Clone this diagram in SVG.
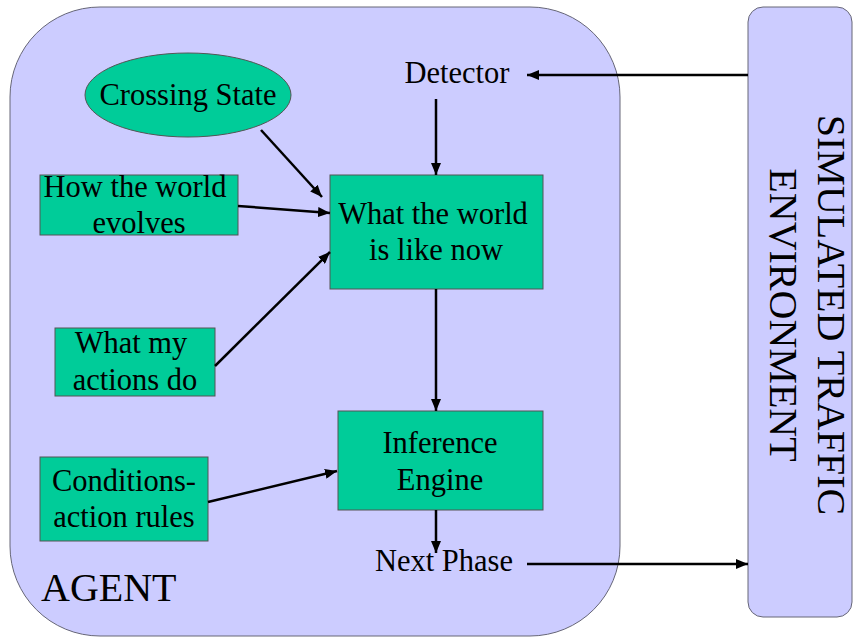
<svg xmlns="http://www.w3.org/2000/svg" width="853" height="638" viewBox="0 0 853 638">
<defs>
<marker id="ah" markerWidth="12" markerHeight="10" refX="12" refY="5" orient="auto" markerUnits="userSpaceOnUse">
<path d="M0,0 L12,5 L0,10 Z" fill="#000"/>
</marker>
<style>
.panel{fill:#CCCCFF;stroke:#666677;stroke-width:1}
.box{fill:#00CC99;stroke:#555555;stroke-width:1}
.t{font-family:"Liberation Serif","Times New Roman",serif;font-size:30.5px;fill:#000;text-anchor:middle}
.big{font-family:"Liberation Serif","Times New Roman",serif;font-size:40px;fill:#000}
.c{stroke:#000;stroke-width:2.5;fill:none;marker-end:url(#ah)}
</style>
</defs>
<rect width="853" height="638" fill="#fff"/>
<g id="agent">
<rect class="panel" x="10" y="7" width="610" height="629" rx="90" ry="90"/>
<text class="big" x="41" y="601">AGENT</text>
</g>
<g id="environment">
<rect class="panel" x="748" y="7" width="104" height="610" rx="15" ry="15"/>
<text class="big" text-anchor="middle" transform="translate(818,315) rotate(90)">SIMULATED TRAFFIC</text>
<text class="big" text-anchor="middle" transform="translate(770,315) rotate(90)">ENVIRONMENT</text>
</g>
<g id="crossing-state">
<ellipse class="box" cx="188" cy="95" rx="103" ry="42"/>
<text class="t" x="188" y="105">Crossing State</text>
</g>
<g id="detector">
<text class="t" x="457" y="83">Detector</text>
</g>
<g id="how-world-evolves">
<rect class="box" x="40" y="175" width="198" height="60"/>
<text class="t" x="135" y="197">How the world</text>
<text class="t" x="139" y="233">evolves</text>
</g>
<g id="world-now">
<rect class="box" x="330" y="175" width="213" height="114"/>
<text class="t" x="433" y="224">What the world</text>
<text class="t" x="436" y="260">is like now</text>
</g>
<g id="my-actions">
<rect class="box" x="55" y="328" width="160" height="68"/>
<text class="t" x="131" y="353">What my</text>
<text class="t" x="135" y="390">actions do</text>
</g>
<g id="condition-rules">
<rect class="box" x="40" y="457" width="168" height="84"/>
<text class="t" x="124" y="491">Conditions-</text>
<text class="t" x="124" y="527">action rules</text>
</g>
<g id="inference-engine">
<rect class="box" x="338" y="411" width="205" height="99"/>
<text class="t" x="440" y="453">Inference</text>
<text class="t" x="440" y="490">Engine</text>
</g>
<g id="next-phase">
<text class="t" x="444" y="571">Next Phase</text>
</g>
<g id="connectors">
<line class="c" x1="748" y1="75" x2="527" y2="75"/>
<line class="c" x1="436" y1="99" x2="436" y2="175"/>
<line class="c" x1="261" y1="130" x2="322" y2="197"/>
<line class="c" x1="238" y1="206" x2="330" y2="213"/>
<line class="c" x1="215" y1="366" x2="330" y2="252"/>
<line class="c" x1="436" y1="289" x2="436" y2="411"/>
<line class="c" x1="208" y1="502" x2="337" y2="471"/>
<line class="c" x1="436" y1="510" x2="436" y2="553"/>
<line class="c" x1="527" y1="564" x2="748" y2="564"/>
</g>
</svg>
